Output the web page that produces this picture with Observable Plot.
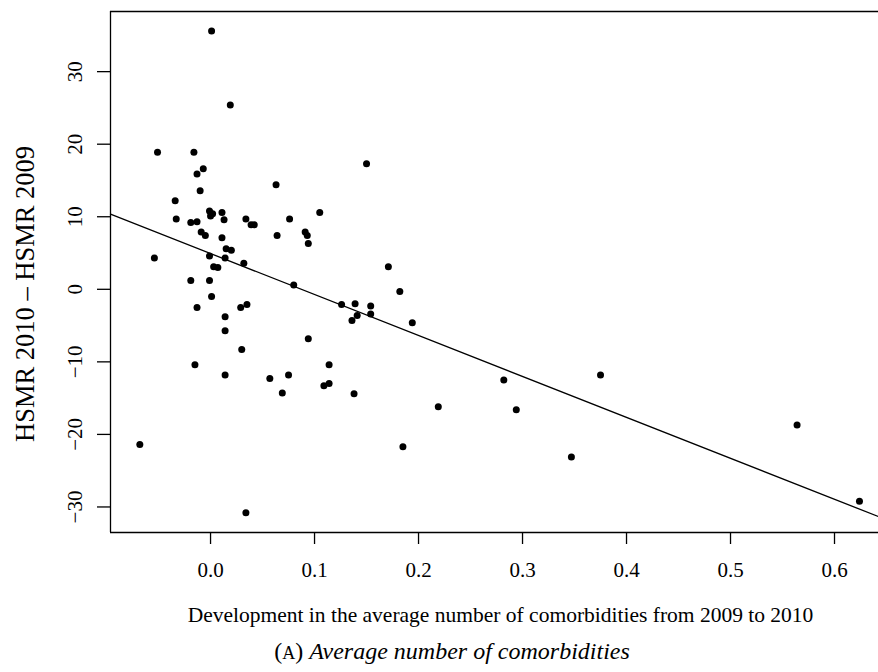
<!DOCTYPE html>
<html><head><meta charset="utf-8">
<script src="https://cdn.jsdelivr.net/npm/d3@7"></script>
<script src="https://cdn.jsdelivr.net/npm/@observablehq/plot@0.6"></script>
<style>
body{margin:0;background:#fff;font-family:"Liberation Serif",serif;}
#wrap{position:relative;width:878px;height:672px;overflow:hidden;}
#caption{position:absolute;left:0;top:636px;width:904px;text-align:center;font-size:24px;line-height:30px;white-space:nowrap;}
#caption .sc{font-size:18px;}
</style></head><body><div id="wrap"></div>
<script>
// Development in average number of comorbidities (2009 -> 2010)
const xDev = [0.001,0.019,-0.051,-0.016,-0.007,-0.013,0.063,-0.010,-0.034,-0.033,
  -0.001,0.002,0.000,0.011,0.013,-0.019,-0.013,0.034,0.039,0.042,
  0.076,0.105,-0.009,-0.005,0.011,0.064,0.091,0.093,0.094,0.015,
  0.020,-0.054,-0.001,0.014,0.032,0.003,0.007,-0.019,-0.001,0.080,
  0.001,-0.013,0.029,0.035,0.126,0.139,0.141,0.136,0.014,0.014,
  0.094,0.030,-0.015,0.114,0.014,0.075,0.057,0.109,0.114,0.069,
  0.138,-0.068,0.034,0.150,0.171,0.182,0.154,0.154,0.194,0.219,
  0.282,0.294,0.375,0.185,0.347,0.564,0.624];
// HSMR 2010 - HSMR 2009
const yDiff = [35.6,25.4,18.9,18.9,16.6,15.9,14.4,13.6,12.2,9.7,
  10.8,10.4,10.1,10.6,9.6,9.2,9.3,9.7,8.9,8.9,
  9.7,10.6,7.9,7.4,7.1,7.4,7.9,7.4,6.3,5.6,
  5.4,4.3,4.6,4.3,3.6,3.1,3.0,1.2,1.2,0.6,
  -1.0,-2.5,-2.5,-2.1,-2.1,-2.0,-3.6,-4.3,-3.8,-5.7,
  -6.8,-8.3,-10.4,-10.4,-11.8,-11.8,-12.3,-13.3,-13.0,-14.3,
  -14.4,-21.4,-30.8,17.3,3.1,-0.3,-2.3,-3.4,-4.6,-16.2,
  -12.5,-16.6,-11.8,-21.7,-23.1,-18.7,-29.2];
const xTicks = [0, 0.1, 0.2, 0.3, 0.4, 0.5, 0.6];
const yTicks = [-30, -20, -10, 0, 10, 20, 30];
// fitted regression line
const fitIntercept = 4.93;
const fitSlope = -56.45;
const xDomain = [-0.0962, 0.6423];
const yDomain = [-33.52, 38.29];
const xLabel = "Development in the average number of comorbidities from 2009 to 2010";
const yLabel = "HSMR 2010 \u2013 HSMR 2009";

const points = xDev.map((x, i) => ({x, y: yDiff[i]}));
const fitLine = xDomain.map(x => ({x, y: fitIntercept + fitSlope * x}));

const plot = Plot.plot({
  width: 878, height: 632,
  marginLeft: 110, marginRight: 0, marginTop: 11, marginBottom: 100,
  style: {fontFamily: "Liberation Serif", fontSize: "21px", background: "white", color: "black"},
  x: {domain: xDomain},
  y: {domain: yDomain},
  marks: [
    Plot.ruleX([xDomain[0]], {stroke: "black", strokeWidth: 1.3}),
    Plot.ruleY(yDomain, {stroke: "black", strokeWidth: 1.3}),
    Plot.line(fitLine, {x: "x", y: "y", stroke: "black", strokeWidth: 1.3}),
    Plot.dot(points, {x: "x", y: "y", r: 3.5, fill: "black", stroke: "none"}),
    Plot.axisX({ticks: xTicks, tickFormat: d3.format(".1f"), tickSize: 12, tickPadding: 18, strokeWidth: 1.3, label: null}),
    Plot.axisY({ticks: yTicks, tickRotate: -90, tickSize: 13, tickPadding: 16, strokeWidth: 1.3, label: null}),
    Plot.text([xLabel], {text: d => d, frameAnchor: "bottom", dx: 6, dy: 83, lineAnchor: "middle", fontSize: 21.5}),
    Plot.text([yLabel], {text: d => d, frameAnchor: "left", dx: -85, dy: 22, rotate: -90,
      textAnchor: "middle", lineAnchor: "middle", fontSize: 26.5})
  ]
});
document.getElementById("wrap").appendChild(plot);
const cap = document.createElement("div");
cap.id = "caption";
cap.innerHTML = '(<span class="sc">A</span>) <i>Average number of comorbidities</i>';
document.getElementById("wrap").appendChild(cap);
</script>
</body></html>
